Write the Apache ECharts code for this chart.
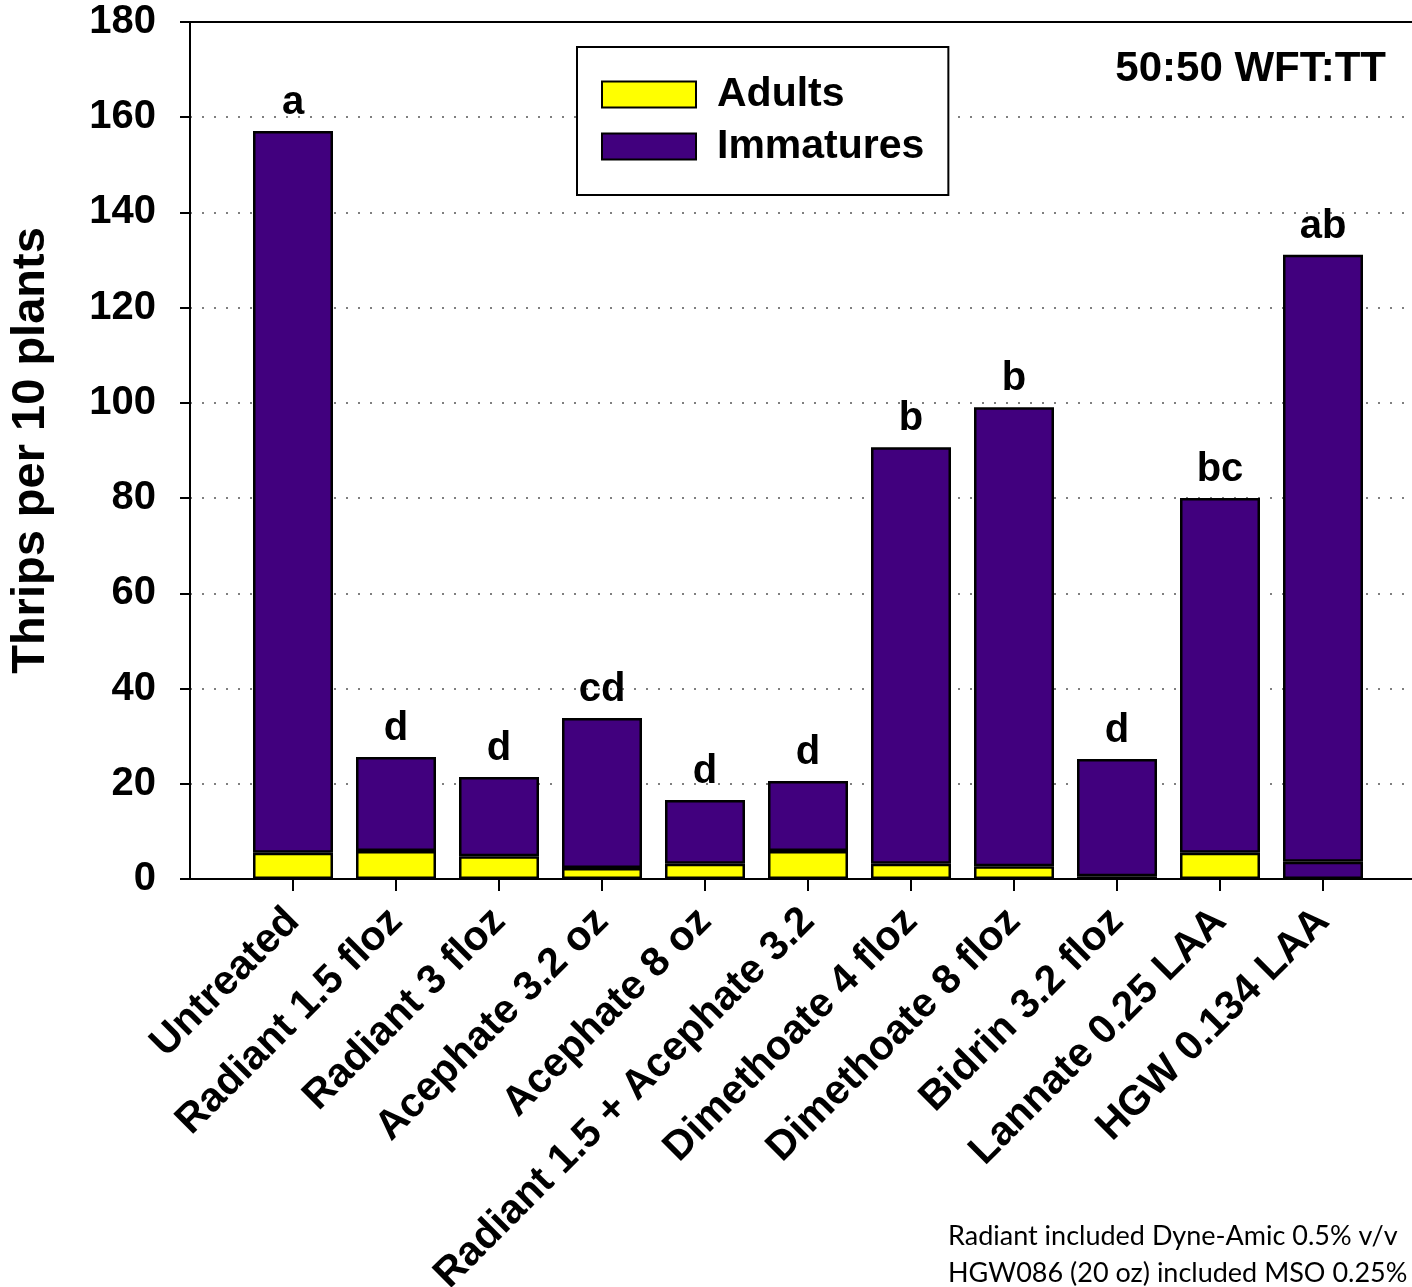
<!DOCTYPE html>
<html>
<head>
<meta charset="utf-8">
<script src="https://cdn.jsdelivr.net/npm/echarts@6/dist/echarts.min.js"></script>
<style>
  html, body { margin: 0; padding: 0; background: #fff; }
  #chart { width: 1412px; height: 1287px; }
</style>
</head>
<body>
<div id="chart"></div>
<script>
// treatments and thrips counts (per 10 plants)
const categories = ['Untreated', 'Radiant 1.5 floz', 'Radiant 3 floz', 'Acephate 3.2 oz',
  'Acephate 8 oz', 'Radiant 1.5 + Acephate 3.2', 'Dimethoate 4 floz', 'Dimethoate 8 floz',
  'Bidrin 3.2 floz', 'Lannate 0.25 LAA', 'HGW 0.134 LAA'];
const adults = [5.5, 5.9, 4.8, 2.3, 3.2, 5.9, 3.2, 2.7, 0.6, 5.5, 3.6];
const immatures = [151.6, 19.7, 16.6, 31.5, 13.4, 14.7, 87.5, 96.4, 24.6, 74.5, 127.5];
const letters = ['a', 'd', 'd', 'cd', 'd', 'd', 'b', 'b', 'd', 'bc', 'ab'];

const YELLOW = '#ffff00';
const PURPLE = '#41007e';
const FONT = 'Liberation Sans';

const chart = echarts.init(document.getElementById('chart'));

// empty slot at each end so the bars sit one band in from the frame
const axisCats = [''].concat(categories, ['']);
const last = axisCats.length - 1;
const pad = arr => ['-'].concat(arr, ['-']);
const inner = i => i > 0 && i < last;

const option = {
  animation: false,
  textStyle: { fontFamily: FONT },
  title: {
    text: '50:50 WFT:TT',
    right: 21,
    top: 43,
    textStyle: { fontFamily: FONT, fontWeight: 'bold', fontSize: 42, color: '#000' }
  },
  legend: {
    orient: 'vertical',
    left: 577,
    top: 47,
    padding: [27, 24, 28, 24],
    itemGap: 11,
    itemWidth: 94,
    itemHeight: 26,
    icon: 'rect',
    backgroundColor: '#fff',
    borderColor: '#000',
    borderWidth: 2,
    borderRadius: 0,
    textStyle: { fontFamily: FONT, fontWeight: 'bold', fontSize: 41, color: '#000', lineHeight: 41, padding: [0, 0, 0, 16] },
    data: ['Adults', 'Immatures']
  },
  grid: {
    left: 190,
    top: 22,
    width: 1236,
    height: 857,
    outerBoundsMode: 'none',
    show: true,
    borderColor: '#000',
    borderWidth: 2,
    backgroundColor: 'transparent'
  },
  xAxis: {
    type: 'category',
    data: axisCats,
    boundaryGap: false,
    splitLine: { show: false },
    axisLine: { show: true, lineStyle: { color: '#000', width: 2 } },
    axisTick: { show: true, length: 12, interval: inner, lineStyle: { color: '#000', width: 2 } },
    axisLabel: {
      interval: inner,
      rotate: 45,
      margin: 36,
      fontFamily: FONT,
      fontWeight: 'bold',
      fontSize: 41,
      color: '#000'
    }
  },
  yAxis: {
    type: 'value',
    min: 0,
    max: 180,
    interval: 20,
    name: 'Thrips per 10 plants',
    nameLocation: 'middle',
    nameGap: 135,
    nameRotate: 90,
    nameTextStyle: { fontFamily: FONT, fontWeight: 'bold', fontSize: 47, color: '#000' },
    axisLine: { show: true, lineStyle: { color: '#000', width: 2 } },
    axisTick: { show: true, inside: false, length: 10, lineStyle: { color: '#000', width: 2 } },
    axisLabel: {
      margin: 34,
      fontFamily: FONT,
      fontWeight: 'bold',
      fontSize: 40,
      color: '#000'
    },
    splitLine: {
      show: true,
      showMinLine: false,
      showMaxLine: false,
      lineStyle: { color: '#555', width: 1.5, type: [2, 10] }
    }
  },
  series: [
    {
      name: 'Adults',
      type: 'bar',
      stack: 'total',
      barWidth: 80,
      itemStyle: { color: YELLOW, borderColor: '#000', borderWidth: 2.5 },
      data: pad(adults.map((v, i) => {
        // HGW bar has its adult part drawn in purple in the original figure
        if (i === adults.length - 1) return { value: v, itemStyle: { color: PURPLE } };
        return v;
      }))
    },
    {
      name: 'Immatures',
      type: 'bar',
      stack: 'total',
      barWidth: 80,
      itemStyle: { color: PURPLE, borderColor: '#000', borderWidth: 2.5 },
      label: {
        show: true,
        position: 'top',
        distance: 8,
        fontFamily: FONT,
        fontWeight: 'bold',
        fontSize: 40,
        color: '#000',
        formatter: p => letters[p.dataIndex - 1] || ''
      },
      data: pad(immatures)
    }
  ],
  graphic: [
    {
      type: 'text',
      left: 948,
      top: 1218,
      style: {
        text: 'Radiant included Dyne-Amic 0.5% v/v\nHGW086 (20 oz) included MSO 0.25% v/v',
        font: '27px Lato',
        lineHeight: 37,
        fill: '#000'
      }
    }
  ]
};

chart.setOption(option);
</script>
</body>
</html>
